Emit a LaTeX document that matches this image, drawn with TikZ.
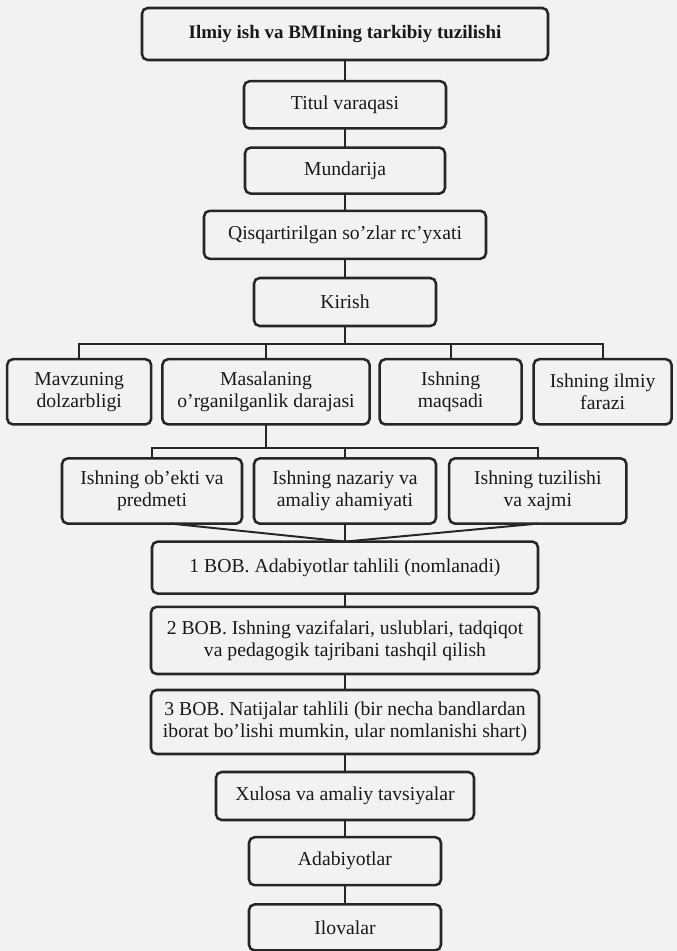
\documentclass[tikz,border=0pt]{standalone}
\usepackage{fontspec}
\setmainfont{Liberation Serif}
\usetikzlibrary{positioning, calc}
\tikzset{every node/.append style={align=center, inner sep=3pt}}

\begin{document}
\begin{tikzpicture}[
    font=\fontsize{14}{15.5}\selectfont,
    box/.style={rectangle, rounded corners=4pt, draw=black!85, line width=1.8pt,
        outer sep=0pt, text=black!90, minimum height=1.2cm},
    row/.style={box, minimum height=1.63cm},
    ln/.style={line width=1.4pt, black!85}
]
% page
\fill[black!5] (-8.625,0.85) rectangle (8.3,-22.925);
\useasboundingbox (-8.625,0.85) rectangle (8.3,-22.925);
\node[box, minimum width=10.15cm, minimum height=1.3cm,
      font=\fontsize{13.5}{15}\selectfont\bfseries] (top) {Ilmiy ish va BMIning tarkibiy tuzilishi};
\node[box, below=0.53cm of top, minimum width=5.05cm, minimum height=1.18cm] (titul) {Titul varaqasi};
\node[box, below=0.48cm of titul, minimum width=5cm, minimum height=1.15cm] (mund) {Mundarija};
\node[box, below=0.43cm of mund, minimum width=7.05cm] (qisq) {Qisqartirilgan so’zlar rc’yxati};
\node[box, below=0.48cm of qisq, minimum width=4.55cm] (kirish) {Kirish};
% first row
\node[row, below=0.83cm of kirish, xshift=-1.975cm, minimum width=5.18cm] (masala) {Masalaning\\o'rganilganlik darajasi};
\node[row, left=0.28cm of masala, minimum width=3.6cm] (mavzu) {Mavzuning\\dolzarbligi};
\node[row, right=0.25cm of masala, minimum width=3.55cm] (maqsad) {Ishning\\maqsadi};
\node[row, right=0.3cm of maqsad, minimum width=3.45cm] (faraz) {Ishning ilmiy\\farazi};
% second row
\node[row, below=0.85cm of masala, xshift=1.975cm, minimum width=4.55cm] (nazar) {Ishning nazariy va\\amaliy ahamiyati};
\node[row, left=0.3cm of nazar, minimum width=4.5cm] (obekt) {Ishning ob’ekti va\\predmeti};
\node[row, right=0.33cm of nazar, minimum width=4.43cm] (tuzil) {Ishning tuzilishi\\va xajmi};
% chapters
\node[box, below=0.45cm of nazar, minimum width=9.65cm, minimum height=1.3cm] (bob1) {1 BOB. Adabiyotlar tahlili (nomlanadi)};
\node[box, below=0.33cm of bob1, minimum width=9.7cm, minimum height=1.68cm] (bob2) {2 BOB. Ishning vazifalari, uslublari, tadqiqot\\va pedagogik tajribani tashqil qilish};
\node[box, below=0.4cm of bob2, minimum width=9.7cm, minimum height=1.6cm] (bob3) {3 BOB. Natijalar tahlili (bir necha bandlardan\\iborat bo’lishi mumkin, ular nomlanishi shart)};
\node[box, below=0.45cm of bob3, minimum width=6.45cm] (xulosa) {Xulosa va amaliy tavsiyalar};
\node[box, below=0.43cm of xulosa, minimum width=4.8cm] (adab) {Adabiyotlar};
\node[box, below=0.48cm of adab, minimum width=4.8cm, minimum height=1.15cm] (ilova) {Ilovalar};
\draw[ln] (top) -- (titul);
\draw[ln] (titul) -- (mund);
\draw[ln] (mund) -- (qisq);
\draw[ln] (qisq) -- (kirish);
% branches
\draw[ln] (kirish.south) -- ++(0,-0.45) coordinate (bar1);
\draw[ln] (mavzu.north) |- (bar1) -| (faraz.north);
\draw[ln] (masala.north) -- (masala.north |- bar1);
\draw[ln] (maqsad.north) -- (maqsad.north |- bar1);
\draw[ln] (masala.south) -- ++(0,-0.58) coordinate (bar2);
\draw[ln] (obekt.north) |- (bar2) -| (tuzil.north);
\draw[ln] (nazar.north) -- (nazar.north |- bar2);
% join into chapter 1
\draw[ln] (obekt.-60) -- (bob1.north);
\draw[ln] (nazar) -- (bob1);
\draw[ln] (tuzil.south) -- (bob1.north);
\draw[ln] (bob1) -- (bob2);
\draw[ln] (bob2) -- (bob3);
\draw[ln] (bob3) -- (xulosa);
\draw[ln] (xulosa) -- (adab);
\draw[ln] (adab) -- (ilova);
\end{tikzpicture}
\end{document}
